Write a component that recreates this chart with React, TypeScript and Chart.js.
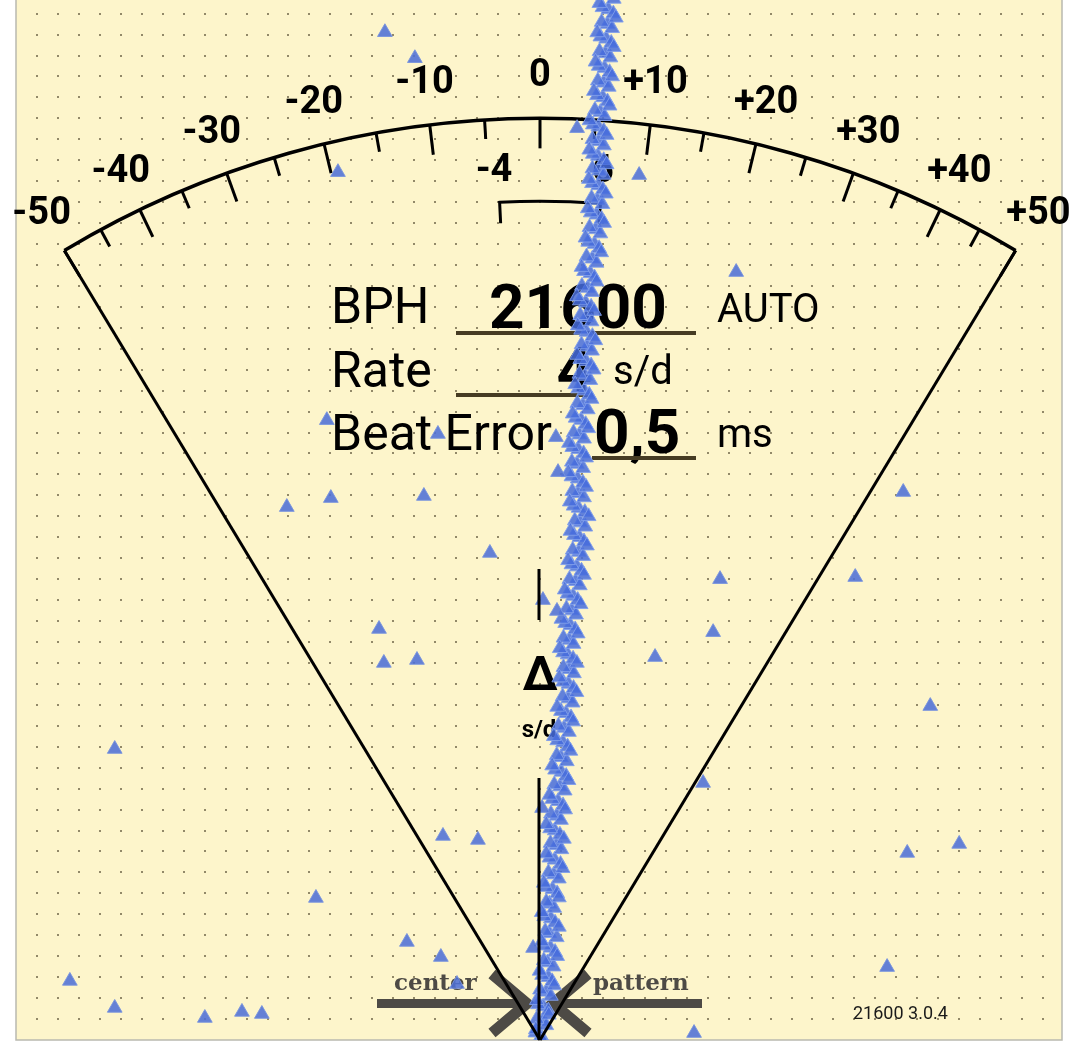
import { useEffect, useRef } from "react";
import { Chart, registerables } from "chart.js";

Chart.register(...registerables);

// beat trail: horizontal offset and elapsed time
const trailOffset = [
  0.08, -0.22, 0.3, -0.16, 0.4, -0.1, 0.52, 0.0, 0.58, 0.1,
  0.65, 0.18, 0.72, 0.2, 0.8, 0.25, 0.72, 0.2, 0.68, 0.3,
  0.82, 0.28, 0.9, 0.4, 0.98, 0.45, 1.02, 0.5, 0.95, 0.48,
  1.0, 0.52, 1.1, 0.58, 1.18, 0.68, 1.25, 0.72, 1.28, 0.8,
  1.32, 0.82, 1.38, 0.88, 1.48, 1.0, 1.56, 1.08, 1.6, 1.1,
  1.62, 1.12, 1.58, 1.1, 1.6, 1.12, 1.68, 1.2, 1.72, 1.26,
  1.8, 1.32, 1.9, 1.4, 1.98, 1.5, 2.06, 1.56, 2.1, 1.62,
  2.16, 1.66, 2.14, 1.6, 2.1, 1.54, 2.05, 1.5, 2.06, 1.52,
  2.08, 1.54, 2.1, 1.6, 2.18, 1.7, 2.28, 1.78, 2.35, 1.82,
  2.4, 1.88, 2.44, 1.92, 2.48, 1.98, 2.5, 1.96, 2.46, 1.92,
  2.44, 1.9, 2.48, 2.0, 2.6, 2.1, 2.7, 2.22, 2.82, 2.3,
  2.88, 2.36, 2.94, 2.42, 2.98, 2.46, 3.0, 2.48, 3.04, 2.5,
  3.04, 2.52, 3.05, 2.5, 3.04, 2.52, 3.08, 2.62, 3.22, 2.72,
  3.28, 2.76, 3.32, 2.8, 3.36, 2.84, 3.4, 2.88, 3.44, 2.94,
  3.5, 2.98, 3.52,
];
const trailTime = [
  0.05, 0.35, 0.7, 1.0, 1.4, 1.7, 2.1, 2.4, 2.8, 3.1,
  3.5, 3.8, 4.2, 4.5, 4.9, 5.2, 5.6, 5.9, 6.3, 6.6,
  7.0, 7.3, 7.7, 8.0, 8.4, 8.7, 9.1, 9.4, 9.8, 10.1,
  10.5, 10.8, 11.2, 11.5, 11.9, 12.2, 12.6, 12.9, 13.3, 13.6,
  14.0, 14.3, 14.7, 15.0, 15.4, 15.7, 16.1, 16.4, 16.8, 17.1,
  17.5, 17.8, 18.2, 18.5, 18.9, 19.2, 19.6, 19.9, 20.3, 20.6,
  21.0, 21.3, 21.7, 22.0, 22.4, 22.7, 23.1, 23.4, 23.8, 24.1,
  24.5, 24.8, 25.2, 25.5, 25.9, 26.2, 26.6, 26.9, 27.3, 27.6,
  28.0, 28.3, 28.7, 29.0, 29.4, 29.7, 30.1, 30.4, 30.8, 31.1,
  31.5, 31.8, 32.2, 32.5, 32.9, 33.2, 33.6, 33.9, 34.3, 34.6,
  35.0, 35.3, 35.7, 36.0, 36.4, 36.7, 37.1, 37.4, 37.8, 38.1,
  38.5, 38.8, 39.2, 39.5, 39.9, 40.2, 40.6, 40.9, 41.3, 41.6,
  42.0, 42.3, 42.7, 43.0, 43.4, 43.7, 44.1, 44.4, 44.8, 45.1,
  45.5, 45.8, 46.2, 46.5, 46.9, 47.2, 47.6, 47.9, 48.3, 48.6,
  49.0, 49.3, 49.7,
];

// beats in the middle of the trail
const coreOffset = [
  0.05, 0.12, 0.15, 0.3, 0.4, 0.36, 0.5, 0.44, 0.52, 0.45,
  0.6, 0.66, 0.7, 0.78, 0.7, 0.8, 0.86, 0.95, 1.02, 1.0,
  1.1, 1.15, 1.24, 1.35, 1.36, 1.4, 1.32, 1.4, 1.45, 1.52,
  1.58, 1.7, 1.76, 1.85, 1.88, 1.92, 1.84, 1.82, 1.8, 1.76,
  1.82, 1.88, 1.96, 2.05, 2.12, 2.16, 2.2, 2.25, 2.22, 2.2,
  2.18, 2.28, 2.4, 2.5, 2.6, 2.66, 2.7, 2.74, 2.78, 2.8,
  2.76, 2.8, 2.78, 2.88, 3.0, 3.04, 3.08, 3.12, 3.16, 3.22,
  3.26,
];
const coreTime = [
  0.2, 0.9, 1.6, 2.3, 3.0, 3.7, 4.4, 5.1, 5.8, 6.5,
  7.2, 7.9, 8.6, 9.3, 10.0, 10.7, 11.4, 12.1, 12.8, 13.5,
  14.2, 14.9, 15.6, 16.3, 17.0, 17.7, 18.4, 19.1, 19.8, 20.5,
  21.2, 21.9, 22.6, 23.3, 24.0, 24.7, 25.4, 26.1, 26.8, 27.5,
  28.2, 28.9, 29.6, 30.3, 31.0, 31.7, 32.4, 33.1, 33.8, 34.5,
  35.2, 35.9, 36.6, 37.3, 38.0, 38.7, 39.4, 40.1, 40.8, 41.5,
  42.2, 42.9, 43.6, 44.3, 45.0, 45.7, 46.4, 47.1, 47.8, 48.5,
  49.2,
];

// beats on the edges of the trail
const edgeOffset = [
  -0.2, 0.42, -0.15, 0.68, -0.02, 0.82, 0.08, 0.9, 0.08, 0.9,
  0.18, 1.08, 0.3, 1.14, 0.3, 1.2, 0.45, 1.36, 0.58, 1.45,
  0.66, 1.58, 0.82, 1.74, 0.92, 1.76, 0.94, 1.8, 1.02, 1.94,
  1.18, 2.1, 1.34, 2.24, 1.45, 2.32, 1.42, 2.2, 1.35, 2.2,
  1.38, 2.3, 1.56, 2.46, 1.68, 2.56, 1.77, 2.64, 1.8, 2.58,
  1.76, 2.7, 1.98, 2.92, 2.17, 3.06, 2.28, 3.14, 2.33, 3.18,
  2.35, 3.18, 2.36, 3.32, 2.57, 3.44, 2.65, 3.52, 2.73, 3.62,
  2.83,
];
const edgeTime = [
  0.5, 1.2, 1.9, 2.6, 3.3, 4.0, 4.7, 5.4, 6.1, 6.8,
  7.5, 8.2, 8.9, 9.6, 10.3, 11.0, 11.7, 12.4, 13.1, 13.8,
  14.5, 15.2, 15.9, 16.6, 17.3, 18.0, 18.7, 19.4, 20.1, 20.8,
  21.5, 22.2, 22.9, 23.6, 24.3, 25.0, 25.7, 26.4, 27.1, 27.8,
  28.5, 29.2, 29.9, 30.6, 31.3, 32.0, 32.7, 33.4, 34.1, 34.8,
  35.5, 36.2, 36.9, 37.6, 38.3, 39.0, 39.7, 40.4, 41.1, 41.8,
  42.5, 43.2, 43.9, 44.6, 45.3, 46.0, 46.7, 47.4, 48.1, 48.8,
  49.5,
];

// stray beats
const strayOffset = [
  -7.4, -5.97, -9.64, 1.77, 4.73, 9.36, -10.17, -4.87, 0.76, 0.86,
  -12.08, -9.98, -5.54, 17.33, -2.39, 15.04, 8.59, 0.14, 0.81, -7.68,
  8.26, -7.45, -5.87, 5.49, 18.62, -20.29, 7.78, 0.1, -4.63, -2.96,
  20.0, 17.52, -10.69, -6.35, -4.73, -0.33, -3.96, 16.56, -22.43, -20.29,
  -15.99, -14.22, -13.27, 7.35,
];
const strayTime = [
  48.11, 46.87, 41.43, 43.53, 41.29, 36.66, 29.59, 28.93, 28.78, 27.11,
  25.44, 25.87, 25.97, 26.16, 23.25, 22.1, 22.0, 21.0, 20.48, 19.62,
  19.47, 18.0, 18.14, 18.28, 15.94, 13.89, 12.27, 11.07, 9.74, 9.55,
  9.36, 8.93, 6.78, 4.68, 3.96, 4.39, 2.67, 3.48, 2.82, 1.53,
  1.05, 1.34, 1.24, 0.33,
];

// dial scale in s/d
const dialTicks = [-50, -45, -40, -35, -30, -25, -20, -15, -10, -5, 0, 5, 10, 15, 20, 25, 30, 35, 40, 45, 50];
const dialLabelValues = [-50, -40, -30, -20, -10, 0, 10, 20, 30, 40, 50];
const dialLabels = ["-50", "-40", "-30", "-20", "-10", "0", "+10", "+20", "+30", "+40", "+50"];
const rateRange = [-4, 6];
const rateRangeLabels = ["-4", "6"];

const bph = "21600";
const rate = "4";
const beatError = "0,5";
const version = "21600 3.0.4";

const DIAL_RADIUS = 44; // in time units
const RATE_SLOPE = 0.01205; // tan of the dial angle per s/d

const angleOf = (v: number) => Math.atan(RATE_SLOPE * v);

const dialPlugin = {
  id: "dial",
  beforeDraw(chart: Chart) {
    const { ctx, width, height } = chart;
    const xs = chart.scales.x;
    const ys = chart.scales.y;
    const bottom = ys.getPixelForValue(0);
    ctx.save();
    ctx.fillStyle = "#ffffff";
    ctx.fillRect(0, 0, width, height);
    ctx.fillStyle = "#fdf5cb";
    ctx.fillRect(16, 0, 1046, bottom);
    ctx.fillStyle = "rgba(110,100,72,0.75)";
    for (let i = -24; i <= 24; i++) {
      for (let j = 1; j <= 49; j++) {
        const px = xs.getPixelForValue(i);
        const py = ys.getPixelForValue(j);
        ctx.fillRect(Math.round(px) - 1, Math.round(py) - 1, 2, 2);
      }
    }
    ctx.strokeStyle = "#b9b9b0";
    ctx.lineWidth = 1.5;
    ctx.beginPath();
    ctx.moveTo(16, 0);
    ctx.lineTo(16, bottom);
    ctx.lineTo(1062, bottom);
    ctx.lineTo(1062, 0);
    ctx.stroke();
    ctx.restore();
  },
  beforeDatasetsDraw(chart: Chart) {
    const { ctx } = chart;
    const xs = chart.scales.x;
    const ys = chart.scales.y;
    const cx = xs.getPixelForValue(0);
    const cy = ys.getPixelForValue(0);
    const r = cy - ys.getPixelForValue(DIAL_RADIUS);
    const pt = (v: number, rad: number) => {
      const a = angleOf(v);
      return [cx + rad * Math.sin(a), cy - rad * Math.cos(a)];
    };
    ctx.save();
    ctx.strokeStyle = "#000";
    ctx.fillStyle = "#000";
    // arc
    const amax = angleOf(50);
    ctx.lineWidth = 3.5;
    ctx.beginPath();
    ctx.arc(cx, cy, r, -Math.PI / 2 - amax, -Math.PI / 2 + amax);
    ctx.stroke();
    // ticks
    ctx.lineWidth = 3;
    dialTicks.forEach((v) => {
      const len = v % 10 === 0 ? 30 : 19;
      const [x1, y1] = pt(v, r);
      const [x2, y2] = pt(v, r - len);
      ctx.beginPath();
      ctx.moveTo(x1, y1);
      ctx.lineTo(x2, y2);
      ctx.stroke();
    });
    // labels
    ctx.font = "bold 38px Roboto";
    ctx.textAlign = "center";
    ctx.textBaseline = "middle";
    dialLabelValues.forEach((v, i) => {
      const [x, y] = pt(v, r + 44);
      ctx.fillText(dialLabels[i], x, y + 2);
    });
    // rate range bracket
    rateRange.forEach((v, i) => {
      const [x, y] = pt(v, r - 50);
      ctx.fillText(rateRangeLabels[i], x - (i === 0 ? 4 : 0), y + 2);
    });
    const br = r - 83;
    ctx.lineWidth = 3;
    ctx.beginPath();
    const [bx0, by0] = pt(rateRange[0], br - 21);
    const [bx3, by3] = pt(rateRange[1], br - 21);
    ctx.moveTo(bx0, by0);
    ctx.arc(cx, cy, br, -Math.PI / 2 + angleOf(rateRange[0]), -Math.PI / 2 + angleOf(rateRange[1]));
    ctx.lineTo(bx3, by3);
    ctx.stroke();

    // readings
    ctx.textAlign = "left";
    ctx.textBaseline = "alphabetic";
    ctx.font = "50px Roboto";
    ctx.fillText("BPH", 331, 323);
    ctx.fillText("Rate", 331, 387);
    ctx.fillText("Beat Error", 331, 450);
    ctx.font = "bold 62px Roboto";
    ctx.fillText(bph, 489, 328);
    ctx.textAlign = "right";
    ctx.fillText(rate, 592, 391);
    ctx.textAlign = "left";
    ctx.fillText(beatError, 594, 453);
    ctx.font = "40px Roboto";
    ctx.fillText("AUTO", 717, 322);
    ctx.fillText("s/d", 613, 384);
    ctx.fillText("ms", 717, 447);
    ctx.fillStyle = "#463c23";
    ctx.fillRect(456, 331, 240, 4);
    ctx.fillRect(456, 393, 137, 4);
    ctx.fillRect(592, 456, 104, 4);

    // delta label
    ctx.fillStyle = "#000";
    ctx.textAlign = "center";
    ctx.font = "bold 48px Roboto";
    ctx.fillText("Δ", cx, 690);
    ctx.font = "bold 24px Roboto";
    ctx.fillText("s/d", cx - 1, 737);

    // center pattern marks
    ctx.fillStyle = "#4d4a45";
    ctx.strokeStyle = "#4d4a45";
    ctx.fillRect(377, 999, 145, 9);
    ctx.fillRect(556, 999, 146, 9);
    ctx.lineWidth = 11;
    ctx.lineJoin = "miter";
    ctx.beginPath();
    ctx.moveTo(492, 974);
    ctx.lineTo(527, 1003.5);
    ctx.lineTo(492, 1033);
    ctx.stroke();
    ctx.beginPath();
    ctx.moveTo(588, 974);
    ctx.lineTo(553, 1003.5);
    ctx.lineTo(588, 1033);
    ctx.stroke();
    ctx.font = "bold 23px 'DejaVu Serif'";
    ctx.textAlign = "left";
    ctx.fillText("center", 394, 990);
    ctx.fillText("pattern", 593, 990);

    ctx.fillStyle = "#1a1a1a";
    ctx.font = "18px Roboto";
    ctx.fillText(version, 853, 1019);
    ctx.restore();
  },
  afterDatasetsDraw(chart: Chart) {
    const { ctx } = chart;
    const xs = chart.scales.x;
    const ys = chart.scales.y;
    const cx = xs.getPixelForValue(0);
    const cy = ys.getPixelForValue(0);
    const r = cy - ys.getPixelForValue(DIAL_RADIUS);
    ctx.save();
    ctx.strokeStyle = "#000";
    ctx.lineWidth = 3;
    [-50, 50].forEach((v) => {
      const a = angleOf(v);
      ctx.beginPath();
      ctx.moveTo(cx + r * Math.sin(a), cy - r * Math.cos(a));
      ctx.lineTo(cx, cy);
      ctx.stroke();
    });
    ctx.beginPath();
    ctx.moveTo(cx - 1, 569);
    ctx.lineTo(cx - 1, 620);
    ctx.moveTo(cx - 1, 778);
    ctx.lineTo(cx - 1, cy);
    ctx.stroke();
    ctx.restore();
  },
};

const triangleStyle = {
  pointStyle: "triangle" as const,
  pointRadius: 8.5,
  pointHoverRadius: 8.5,
  borderWidth: 1,
};

const trailColors = {
  backgroundColor: "rgba(70,108,220,0.85)",
  borderColor: "rgba(130,160,235,0.9)",
};

export default function App() {
  const canvasRef = useRef<HTMLCanvasElement | null>(null);
  const chartRef = useRef<Chart | null>(null);

  useEffect(() => {
    const canvas = canvasRef.current;
    if (!canvas) {
      return;
    }

    const trail = trailOffset.map((x, i) => ({ x, y: trailTime[i] }));
    const core = coreOffset.map((x, i) => ({ x, y: coreTime[i] }));
    const edge = edgeOffset.map((x, i) => ({ x, y: edgeTime[i] }));
    const strays = strayOffset.map((x, i) => ({ x, y: strayTime[i] }));

    chartRef.current?.destroy();
    chartRef.current = new Chart(canvas, {
      type: "scatter",
      data: {
        datasets: [
          {
            label: "strays",
            data: strays,
            ...triangleStyle,
            backgroundColor: "rgba(78,112,214,0.88)",
            borderColor: "rgba(120,148,222,0.9)",
          },
          { label: "edge", data: edge, ...triangleStyle, ...trailColors },
          { label: "trail", data: trail, ...triangleStyle, ...trailColors },
          { label: "core", data: core, ...triangleStyle, ...trailColors },
        ],
      },
      options: {
        animation: false,
        responsive: true,
        maintainAspectRatio: false,
        events: [],
        layout: { autoPadding: false, padding: { left: 16, right: 13, top: 0, bottom: 10 } },
        plugins: {
          legend: { display: false },
          tooltip: { enabled: false },
        },
        scales: {
          x: { type: "linear", min: -25, max: 25, display: false },
          y: { type: "linear", min: 0, max: 49.65, display: false },
        },
      },
      plugins: [dialPlugin],
    });

    return () => {
      chartRef.current?.destroy();
      chartRef.current = null;
    };
  }, []);

  return (
    <div style={{ position: "fixed", left: 0, top: 0, width: 1077, height: 1050, background: "#fff" }}>
      <canvas ref={canvasRef} />
    </div>
  );
}
